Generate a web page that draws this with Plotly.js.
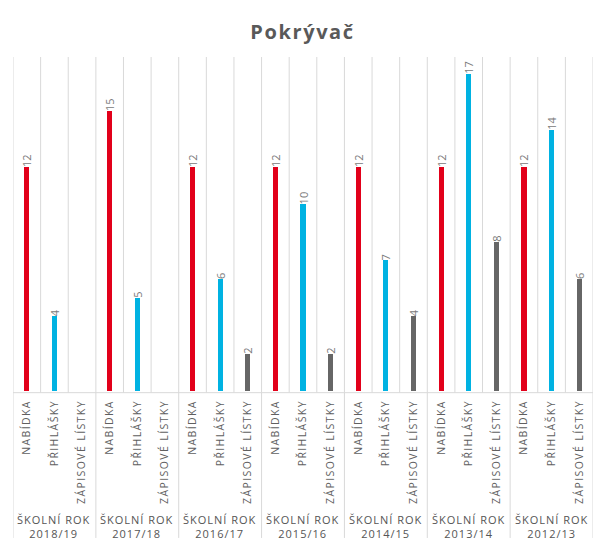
<!DOCTYPE html>
<html><head><meta charset="utf-8">
<script src="https://cdn.plot.ly/plotly-3.0.1.min.js"></script>
<style>
html,body{margin:0;padding:0;background:#fff;}
#chart .xtick text{letter-spacing:1.4px;}
#chart .annotation-text{letter-spacing:1px;}
#chart .gtitle{letter-spacing:1.6px;}
</style>
</head><body>
<div id="chart" style="width:605px;height:553px;"></div>
<script>
const years = ["2018/19","2017/18","2016/17","2015/16","2014/15","2013/14","2012/13"];
const seriesNames = ["NABÍDKA","PŘIHLÁŠKY","ZÁPISOVÉ LÍSTKY"];
const nabidka = [12,15,12,12,12,12,12];
const prihlasky = [4,5,6,10,7,17,14];
const zapisove = [null,null,2,2,4,8,6];
const groupLabel = "ŠKOLNÍ ROK";

const colors = ["#e2001a","#00b2e2","#666666"];
const allSeries = [nabidka, prihlasky, zapisove];
const nG = years.length, nS = seriesNames.length, N = nG*nS;

const traces = allSeries.map((vals, s) => ({
  type: "bar",
  x: years.map((_, g) => g*nS + s),
  y: vals,
  width: 0.185,
  marker: {color: colors[s]},
  text: vals.map(v => v == null ? "" : String(v)),
  textposition: "outside",
  textangle: -90,
  cliponaxis: false,
  textfont: {family: "Open Sans, sans-serif", size: 11, color: "#7a7a7a"},
  hoverinfo: "none",
  showlegend: false
}));

const tickvals = [], ticktext = [];
for (let g = 0; g < nG; g++) for (let s = 0; s < nS; s++) { tickvals.push(g*nS+s); ticktext.push(seriesNames[s]); }

const shapes = [];
for (let i = 0; i <= N; i++) {
  const isGroup = i % nS === 0;
  shapes.push({type:"line", xref:"x", yref:"paper", x0:i-0.5, x1:i-0.5,
    y0: isGroup ? -0.44 : -0.005, y1: 1, line:{color:"#d9d9d9", width:1}, layer:"below"});
}
shapes.push({type:"line", xref:"paper", yref:"paper", x0:0, x1:1, y0:-0.005, y1:-0.005, line:{color:"#d9d9d9", width:1}, layer:"below"});

const annotations = years.map((yr, g) => ({
  xref:"x", yref:"paper", x: g*nS + 1, y: -0.405, yanchor:"middle",
  text: groupLabel + "<br>" + yr, showarrow:false,
  font:{family:"Open Sans, sans-serif", size:11, color:"#555"}, align:"center"
}));

const layout = {
  width:605, height:553,
  margin:{l:13, r:12, t:57, b:162},
  paper_bgcolor:"#fff", plot_bgcolor:"#fff",
  title:{text:"<b>Pokrývač</b>", x:0.5, xanchor:"center", y:0.942, yanchor:"middle",
    font:{family:"Open Sans, sans-serif", size:20, color:"#595959"}},
  bargap:0,
  uniformtext:{mode:"show", minsize:11},
  xaxis:{type:"linear", range:[-0.5, N-0.5], tickvals:tickvals, ticktext:ticktext, tickangle:-90,
    showgrid:false, zeroline:false, showline:false, ticks:"", ticklen:0, ticklabelstandoff:6,
    tickfont:{family:"Open Sans, sans-serif", size:10.5, color:"#606060"}, fixedrange:true},
  yaxis:{range:[0,17.9], visible:false, showgrid:false, zeroline:false, fixedrange:true},
  shapes:shapes, annotations:annotations
};

Plotly.newPlot("chart", traces, layout, {displayModeBar:false, staticPlot:true});
</script>
</body></html>
